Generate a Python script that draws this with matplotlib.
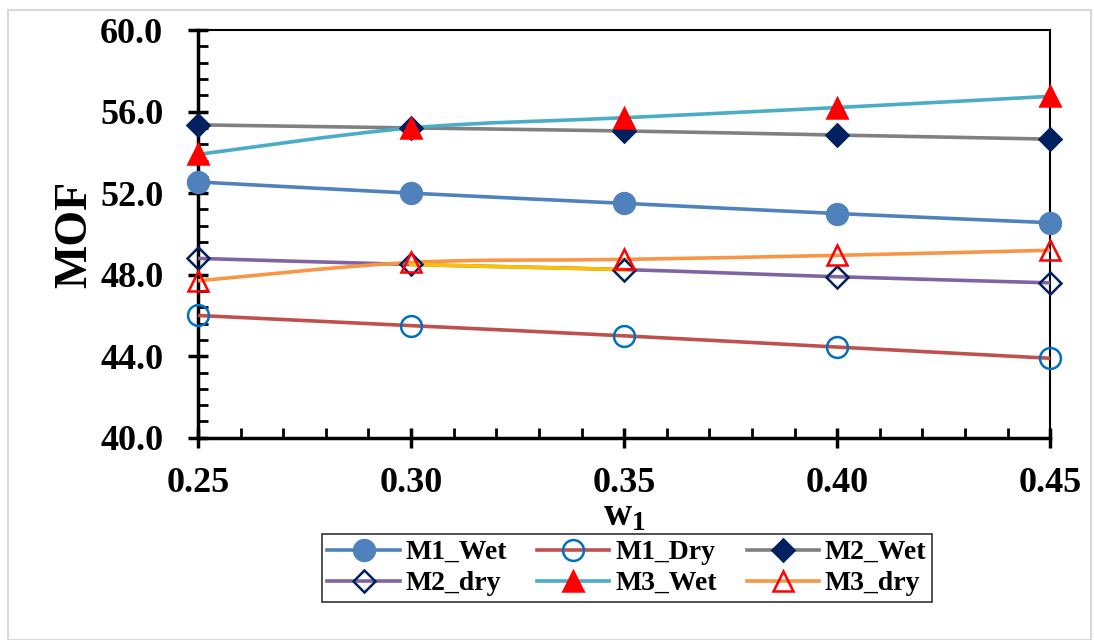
import matplotlib
matplotlib.use('Agg')
import numpy as np
import matplotlib.pyplot as plt
from matplotlib.path import Path
from matplotlib.patches import PathPatch, Rectangle
from matplotlib.lines import Line2D
from matplotlib.ticker import MultipleLocator, FormatStrFormatter

w1 = [0.25, 0.30, 0.35, 0.40, 0.45]
m1_wet = [52.55, 52.0, 51.5, 51.0, 50.55]
m1_dry = [46.0, 45.5, 45.0, 44.45, 43.9]
m2_wet = [55.35, 55.2, 55.05, 54.85, 54.65]
m2_dry = [48.8, 48.5, 48.25, 47.9, 47.6]
m3_wet = [53.9, 55.2, 55.7, 56.2, 56.75]
m3_dry = [47.7, 48.6, 48.75, 48.95, 49.2]

plt.rcParams['font.family'] = 'Liberation Serif'
plt.rcParams['font.weight'] = 'bold'
plt.rcParams['mathtext.fontset'] = 'custom'
plt.rcParams['mathtext.bf'] = 'Liberation Serif:bold'
plt.rcParams['mathtext.rm'] = 'Liberation Serif:bold'

fig = plt.figure(figsize=(10.94, 6.40), dpi=100)
ax = fig.add_axes([0.181, 0.316, 0.779, 0.637])

# light grey border round the whole picture
fig.patches.append(Rectangle((0.007, 0.0), 0.99, 0.985, transform=fig.transFigure,
                             fill=False, edgecolor='#d9d9d9', linewidth=1.5))


def smooth_path(xs, ys):
    # excel-style smoothed line through the points (bezier, tension 1/6)
    pts = list(zip(xs, ys))
    verts = [pts[0]]
    codes = [Path.MOVETO]
    n = len(pts)
    for i in range(n - 1):
        p0 = pts[max(i - 1, 0)]
        p1 = pts[i]
        p2 = pts[i + 1]
        p3 = pts[min(i + 2, n - 1)]
        c1 = (p1[0] + (p2[0] - p0[0]) / 6, p1[1] + (p2[1] - p0[1]) / 6)
        c2 = (p2[0] - (p3[0] - p1[0]) / 6, p2[1] - (p3[1] - p1[1]) / 6)
        verts += [c1, c2, p2]
        codes += [Path.CURVE4] * 3
    return Path(verts, codes)


series = [
    ('M1_Wet', m1_wet, '#4F81BD', 'o', '#4F81BD', '#4F81BD', 15),
    ('M1_Dry', m1_dry, '#C0504D', 'o', 'none', '#0070C0', 15),
    ('M2_Wet', m2_wet, '#808080', 'D', '#002060', '#002060', 11),
    ('M2_dry', m2_dry, '#8064A2', 'D', 'none', '#002060', 11),
    ('M3_Wet', m3_wet, '#4BACC6', '^', '#FF0000', '#FF0000', 15),
    ('M3_dry', m3_dry, '#F79646', '^', 'none', '#FF0000', 15),
]

handles = {}
for name, vals, lc, mk, mfc, mec, ms in series:
    ax.add_patch(PathPatch(smooth_path(w1, vals), facecolor='none', edgecolor=lc,
                           linewidth=2.6, zorder=3, clip_on=False))
    handles[name] = Line2D([], [], color=lc, linewidth=2.6, marker=mk, markersize=ms,
                           markerfacecolor=mfc, markeredgecolor=mec, markeredgewidth=1.8)

# yellow segment of M2_dry between 0.30 and 0.35
ax.plot(w1[1:3], m2_dry[1:3], color='#FFC000', linewidth=2.6, zorder=3.5)

for name, vals, lc, mk, mfc, mec, ms in series:
    ax.plot(w1, vals, linestyle='none', marker=mk, markersize=ms,
            markerfacecolor=mfc, markeredgecolor=mec, markeredgewidth=1.8,
            zorder=5, clip_on=False)

ax.set_xlim(0.25, 0.45)
ax.set_ylim(40, 60)
ax.xaxis.set_major_locator(MultipleLocator(0.05))
ax.xaxis.set_minor_locator(MultipleLocator(0.01))
ax.yaxis.set_major_locator(MultipleLocator(4))
ax.yaxis.set_minor_locator(MultipleLocator(0.8))
ax.xaxis.set_major_formatter(FormatStrFormatter('%.2f'))
ax.yaxis.set_major_formatter(FormatStrFormatter('%.1f'))

for s in ax.spines.values():
    s.set_linewidth(1.5)
ax.spines['left'].set_linewidth(2.5)
ax.spines['bottom'].set_linewidth(2.5)

ax.tick_params(which='major', direction='inout', length=14, width=2.5, labelsize=26)
ax.tick_params(axis='y', which='major', pad=18)
ax.tick_params(axis='x', which='major', pad=14)
ax.tick_params(which='minor', direction='in', length=7, width=2)
ax.tick_params(top=False, right=False, which='both')

ax.set_ylabel('MOF', fontsize=33, fontweight='bold', labelpad=3)
ax.set_xlabel(r'$\mathbf{w_1}$', fontsize=28, labelpad=-2)

order = ['M1_Wet', 'M2_dry', 'M1_Dry', 'M3_Wet', 'M2_Wet', 'M3_dry']
leg = fig.legend([handles[k] for k in order], order, ncol=3, loc='center',
                 bbox_to_anchor=(0.573, 0.1125), frameon=True, fancybox=False,
                 edgecolor='black', fontsize=20, handlelength=2.6, columnspacing=1.1,
                 handletextpad=0.2, borderpad=0.2, labelspacing=0.2)
leg.get_frame().set_linewidth(1.2)

fig.savefig('out.png', dpi=100)
